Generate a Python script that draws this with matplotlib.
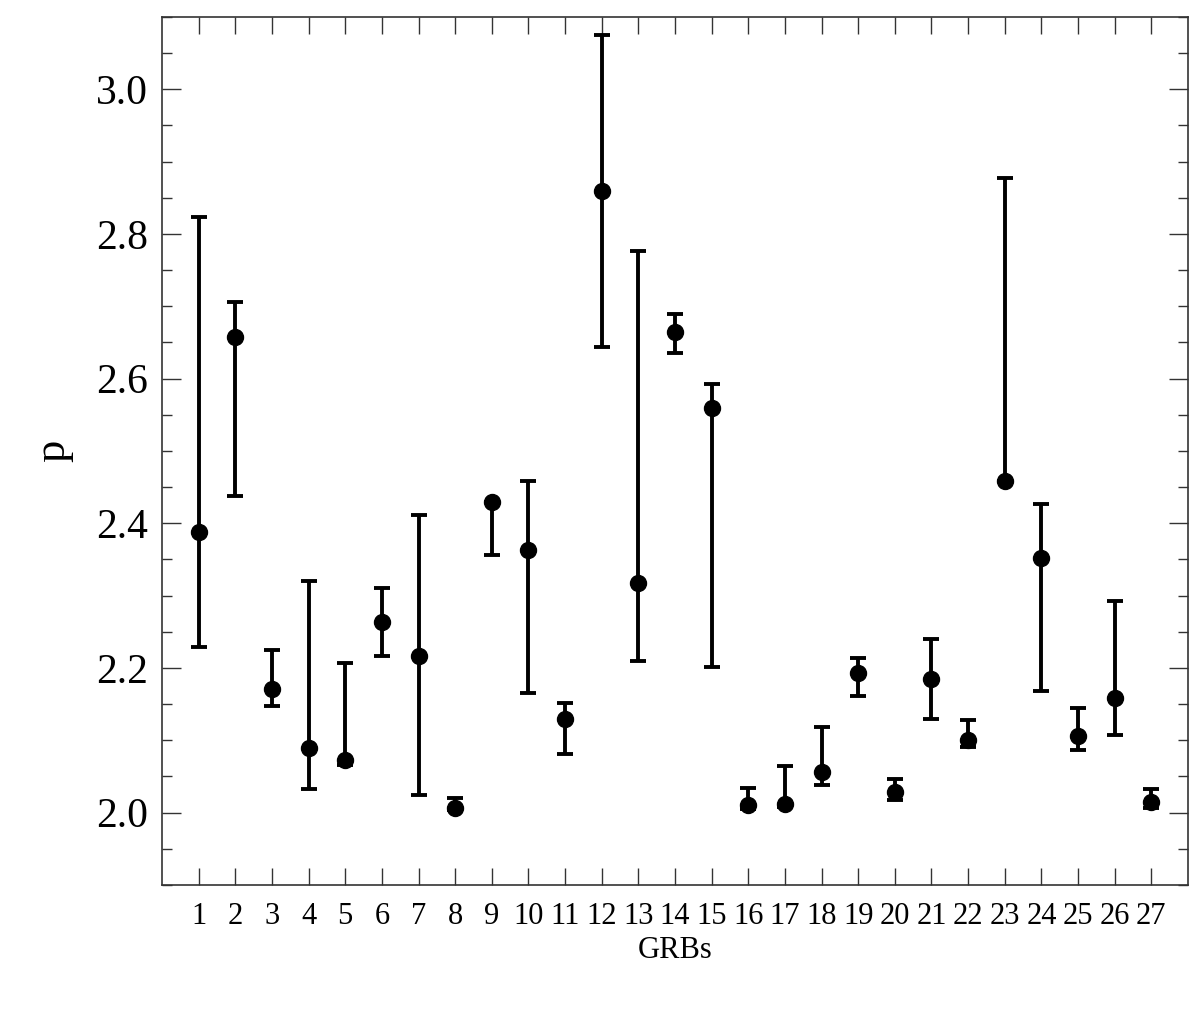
import matplotlib
matplotlib.use("Agg")
import matplotlib.pyplot as plt
from matplotlib.ticker import MultipleLocator
import numpy as np

plt.rcParams['font.family'] = ['Liberation Serif', 'DejaVu Serif']

# GRB index and fitted electron index p with its lower / upper bounds
grb = list(range(1, 28))
p_val = [2.388, 2.658, 2.171, 2.089, 2.073, 2.264, 2.216, 2.006, 2.429,
         2.363, 2.129, 2.859, 2.318, 2.664, 2.559, 2.010, 2.012, 2.056,
         2.193, 2.028, 2.185, 2.100, 2.458, 2.352, 2.106, 2.159, 2.014]
p_high = [2.823, 2.706, 2.225, 2.320, 2.207, 2.311, 2.411, 2.020, 2.430,
          2.459, 2.152, 3.075, 2.777, 2.690, 2.593, 2.034, 2.065, 2.119,
          2.214, 2.047, 2.240, 2.128, 2.878, 2.427, 2.145, 2.293, 2.033]
p_low = [2.229, 2.438, 2.148, 2.033, 2.066, 2.217, 2.024, 2.004, 2.356,
         2.166, 2.081, 2.644, 2.209, 2.636, 2.201, 2.005, 2.008, 2.038,
         2.161, 2.017, 2.130, 2.091, 2.458, 2.168, 2.086, 2.107, 2.0065]

x = np.array(grb)
y = np.array(p_val)
yerr = [y - np.array(p_low), np.array(p_high) - y]

fig = plt.figure(figsize=(12, 10.29), dpi=100)
ax = fig.add_axes([0.135, 0.14, 0.855, 0.8435])

ax.errorbar(x, y, yerr=yerr, fmt='o', color='black', ms=11.5,
            elinewidth=2.8, capsize=5.5, capthick=2.8)

ax.set_xlim(0, 28)
ax.set_ylim(1.9, 3.1)
ax.set_xticks(grb)
ax.set_xticklabels([str(g) for g in grb])
ax.yaxis.set_major_locator(MultipleLocator(0.2))
ax.yaxis.set_minor_locator(MultipleLocator(0.05))
ax.set_yticklabels([f"{v:.1f}" for v in ax.get_yticks()])

ax.tick_params(axis='x', which='major', direction='in', top=True, bottom=True,
               length=12, width=1, color='#333333', labelsize=22, pad=12)
ax.tick_params(axis='y', which='major', direction='in', left=True, right=True,
               length=14, width=1, color='#333333', labelsize=30, pad=10)
ax.tick_params(axis='y', which='minor', direction='in', left=True, right=True,
               length=7, width=1, color='#333333')
ax.set_ylim(1.9, 3.1)

for s in ax.spines.values():
    s.set_linewidth(1.2)
    s.set_color('#333333')

fig.text(53 / 1200, 1 - 451 / 1029, 'p', rotation=90, fontsize=32,
         ha='center', va='center')
fig.text(675 / 1200, 1 - 950 / 1029, 'GRBs', fontsize=22,
         ha='center', va='center')

fig.savefig('out.png', dpi=100)
